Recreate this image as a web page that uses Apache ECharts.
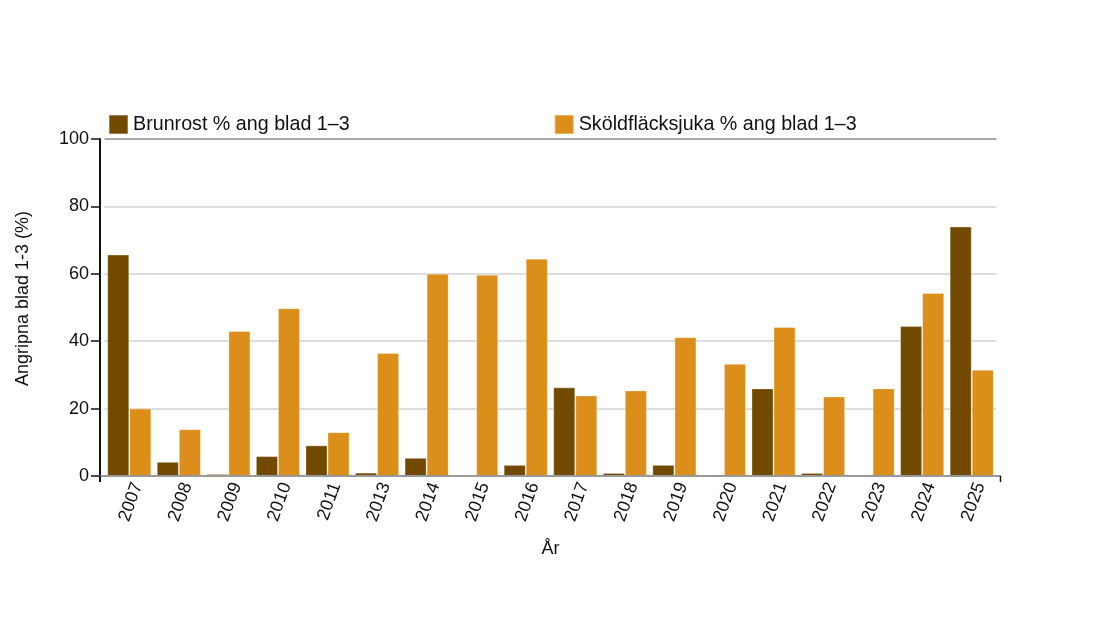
<!DOCTYPE html>
<html>
<head>
<meta charset="utf-8">
<script src="https://cdn.jsdelivr.net/npm/echarts@6/dist/echarts.min.js"></script>
<style>
  html, body { margin: 0; padding: 0; background: #fff; }
  #chart { width: 1100px; height: 624px; }
</style>
</head>
<body>
<div id="chart"></div>
<script>
const years = ["2007", "2008", "2009", "2010", "2011", "2013", "2014", "2015", "2016",
  "2017", "2018", "2019", "2020", "2021", "2022", "2023", "2024", "2025"];
const brunrost = [65.7, 4.2, 0.6, 5.9, 9.1, 1.0, 5.4, 0, 3.3,
  26.3, 0.9, 3.3, 0, 26.0, 0.9, 0.4, 44.5, 74.0];
const skoldflacksjuka = [20.0, 13.9, 43.0, 49.8, 13.0, 36.5, 60.0, 59.7, 64.5,
  23.9, 25.4, 41.2, 33.3, 44.2, 23.6, 26.0, 54.3, 31.5];
const seriesNames = ["Brunrost % ang blad 1–3", "Sköldfläcksjuka % ang blad 1–3"];

const font = "'Liberation Sans', Arial, sans-serif";
const chart = echarts.init(document.getElementById("chart"));

const option = {
  animation: false,
  textStyle: { fontFamily: font },
  legend: {
    left: 108,
    top: 114,
    padding: 0,
    itemWidth: 19,
    itemHeight: 19,
    itemGap: 204,
    icon: "rect",
    data: seriesNames,
    textStyle: { color: "#111", fontSize: 19.7, fontFamily: font },
  },
  grid: { left: 104.5, right: 103.5, top: 139, bottom: 148, outerBoundsMode: "none" },
  // baseline and end ticks reach the frame edges like in the original
  graphic: [
    { type: "line", shape: { x1: 100, y1: 476, x2: 1001, y2: 476 }, style: { stroke: "#999", lineWidth: 2 }, z: 5 },
    { type: "line", shape: { x1: 100, y1: 476, x2: 100, y2: 482 }, style: { stroke: "#111", lineWidth: 2 }, z: 5 },
    { type: "line", shape: { x1: 1000.5, y1: 476, x2: 1000.5, y2: 482 }, style: { stroke: "#111", lineWidth: 1.5 }, z: 5 },
  ],
  xAxis: {
    type: "category",
    data: years,
    name: "År",
    nameLocation: "middle",
    nameGap: 64,
    nameTextStyle: { color: "#111", fontSize: 18, fontFamily: font },
    axisLine: { lineStyle: { color: "#999", width: 2 } },
    axisTick: { alignWithLabel: true, length: 5, lineStyle: { color: "#222", width: 1.5 } },
    axisLabel: { rotate: 70, fontSize: 18, color: "#111", margin: 4, interval: 0, verticalAlign: "top" },
  },
  yAxis: {
    type: "value",
    min: 0,
    max: 100,
    interval: 20,
    offset: 4.5,
    name: "Angripna blad 1-3 (%)",
    nameLocation: "middle",
    nameGap: 68,
    nameTextStyle: { color: "#111", fontSize: 18, fontFamily: font, padding: [0, 0, 0, 18] },
    axisLine: { show: true, lineStyle: { color: "#111", width: 2 } },
    axisTick: { show: true, length: 9, lineStyle: { color: "#111", width: 1.5 } },
    axisLabel: { fontSize: 18, color: "#111", margin: 11 },
    splitLine: {
      lineStyle: { color: ["#dddddd", "#dddddd", "#dddddd", "#dddddd", "#dddddd", "#aaaaaa"], width: 2 },
    },
  },
  series: [
    {
      name: seriesNames[0],
      type: "bar",
      data: brunrost,
      barGap: "0%",
      barCategoryGap: "11%",
      itemStyle: { color: "#714a00", borderColor: "rgba(255,255,255,0.3)", borderWidth: 1 },
    },
    {
      name: seriesNames[1],
      type: "bar",
      data: skoldflacksjuka,
      barGap: "0%",
      barCategoryGap: "11%",
      itemStyle: { color: "#dc8e1a", borderColor: "rgba(255,255,255,0.3)", borderWidth: 1 },
    },
  ],
};

chart.setOption(option);
</script>
</body>
</html>
